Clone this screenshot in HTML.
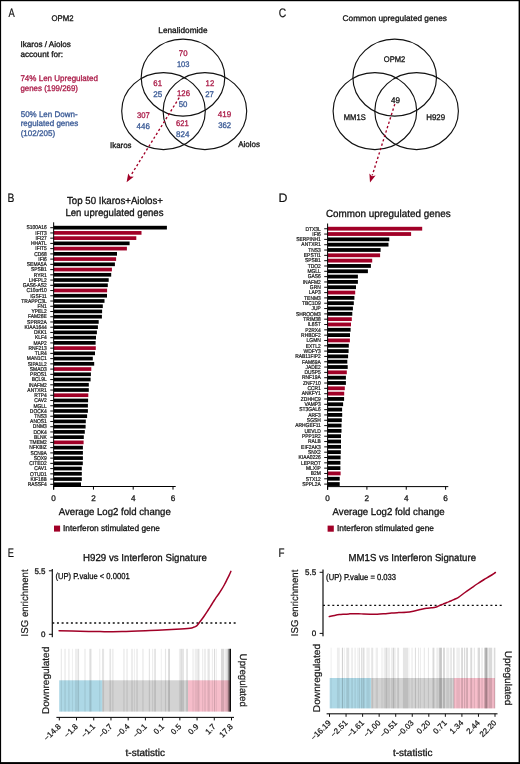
<!DOCTYPE html>
<html><head><meta charset="utf-8"><title>Figure</title>
<style>
html,body{margin:0;padding:0;background:#fff;}
body{width:520px;height:764px;overflow:hidden;}
svg{display:block;font-family:"Liberation Sans", sans-serif;will-change:transform;text-rendering:geometricPrecision;filter:blur(0.3px);}
</style></head><body>
<svg xmlns="http://www.w3.org/2000/svg" width="520" height="764" viewBox="0 0 520 764">
<rect width="520" height="764" fill="#fff"/>
<rect x="0" y="0" width="520" height="1.2" fill="#000"/>
<rect x="0" y="0" width="1.1" height="764" fill="#000"/>
<rect x="518.6" y="0" width="1.4" height="764" fill="#000"/>
<rect x="0" y="762.1" width="520" height="1.9" fill="#000"/>
<text transform="translate(8.38,16.60) scale(0.760,1)" font-size="12.3" fill="#111" stroke="#111" stroke-width="0.2">A</text>
<text transform="translate(7.55,202.10) scale(0.841,1)" font-size="12.3" fill="#111" stroke="#111" stroke-width="0.2">B</text>
<text transform="translate(278.68,16.50) scale(0.835,1)" font-size="12.3" fill="#111" stroke="#111" stroke-width="0.2">C</text>
<text transform="translate(278.49,202.10) scale(1.003,1)" font-size="12.3" fill="#111" stroke="#111" stroke-width="0.2">D</text>
<text transform="translate(7.64,556.80) scale(0.750,1)" font-size="12.3" fill="#111" stroke="#111" stroke-width="0.2">E</text>
<text transform="translate(278.40,556.70) scale(0.798,1)" font-size="12.3" fill="#111" stroke="#111" stroke-width="0.2">F</text>
<text x="51.50" y="20.90" font-size="8.2" textLength="22.00" lengthAdjust="spacingAndGlyphs" fill="#111" stroke="#111" stroke-width="0.3">OPM2</text>
<text x="20.40" y="46.90" font-size="8.2" textLength="50.40" lengthAdjust="spacingAndGlyphs" fill="#111" stroke="#111" stroke-width="0.3">Ikaros / Aiolos</text>
<text x="20.40" y="56.50" font-size="8.2" textLength="42.60" lengthAdjust="spacingAndGlyphs" fill="#111" stroke="#111" stroke-width="0.3">account for:</text>
<text x="20.40" y="81.00" font-size="8.2" textLength="77.60" lengthAdjust="spacingAndGlyphs" fill="#aa1a47" stroke="#aa1a47" stroke-width="0.3">74% Len Upregulated</text>
<text x="20.40" y="90.60" font-size="8.2" textLength="57.60" lengthAdjust="spacingAndGlyphs" fill="#aa1a47" stroke="#aa1a47" stroke-width="0.3">genes (199/269)</text>
<text x="20.70" y="116.60" font-size="8.2" textLength="56.90" lengthAdjust="spacingAndGlyphs" fill="#3a5a96" stroke="#3a5a96" stroke-width="0.3">50% Len Down-</text>
<text x="20.70" y="126.20" font-size="8.2" textLength="57.60" lengthAdjust="spacingAndGlyphs" fill="#3a5a96" stroke="#3a5a96" stroke-width="0.3">regulated genes</text>
<text x="20.70" y="136.20" font-size="8.2" textLength="34.40" lengthAdjust="spacingAndGlyphs" fill="#3a5a96" stroke="#3a5a96" stroke-width="0.3">(102/205)</text>
<ellipse cx="183.00" cy="77.55" rx="41.8" ry="38.5" fill="none" stroke="#111" stroke-width="1.15"/>
<ellipse cx="163.50" cy="111.05" rx="41.8" ry="38.5" fill="none" stroke="#111" stroke-width="1.15"/>
<ellipse cx="204.90" cy="111.05" rx="41.8" ry="38.5" fill="none" stroke="#111" stroke-width="1.15"/>
<text x="158.30" y="33.40" font-size="8.2" textLength="49.30" lengthAdjust="spacingAndGlyphs" fill="#111" stroke="#111" stroke-width="0.3">Lenalidomide</text>
<text x="110.00" y="147.50" font-size="8.2" textLength="21.50" lengthAdjust="spacingAndGlyphs" fill="#111" stroke="#111" stroke-width="0.3">Ikaros</text>
<text x="238.20" y="147.40" font-size="8.2" textLength="21.80" lengthAdjust="spacingAndGlyphs" fill="#111" stroke="#111" stroke-width="0.3">Aiolos</text>
<text x="178.80" y="55.90" font-size="8.2" textLength="8.70" lengthAdjust="spacingAndGlyphs" fill="#aa1a47" stroke="#aa1a47" stroke-width="0.3">70</text>
<text x="176.90" y="67.10" font-size="8.2" textLength="12.60" lengthAdjust="spacingAndGlyphs" fill="#3a5a96" stroke="#3a5a96" stroke-width="0.3">103</text>
<text x="153.30" y="86.40" font-size="8.2" textLength="8.70" lengthAdjust="spacingAndGlyphs" fill="#aa1a47" stroke="#aa1a47" stroke-width="0.3">61</text>
<text x="153.30" y="97.00" font-size="8.2" textLength="9.00" lengthAdjust="spacingAndGlyphs" fill="#3a5a96" stroke="#3a5a96" stroke-width="0.3">25</text>
<text x="205.60" y="86.40" font-size="8.2" textLength="8.60" lengthAdjust="spacingAndGlyphs" fill="#aa1a47" stroke="#aa1a47" stroke-width="0.3">12</text>
<text x="205.20" y="97.00" font-size="8.2" textLength="8.70" lengthAdjust="spacingAndGlyphs" fill="#3a5a96" stroke="#3a5a96" stroke-width="0.3">27</text>
<text x="177.00" y="96.10" font-size="8.2" textLength="13.00" lengthAdjust="spacingAndGlyphs" fill="#aa1a47" stroke="#aa1a47" stroke-width="0.3">126</text>
<text x="178.70" y="106.90" font-size="8.2" textLength="8.70" lengthAdjust="spacingAndGlyphs" fill="#3a5a96" stroke="#3a5a96" stroke-width="0.3">50</text>
<text x="136.90" y="118.00" font-size="8.2" textLength="12.80" lengthAdjust="spacingAndGlyphs" fill="#aa1a47" stroke="#aa1a47" stroke-width="0.3">307</text>
<text x="136.60" y="129.00" font-size="8.2" textLength="13.30" lengthAdjust="spacingAndGlyphs" fill="#3a5a96" stroke="#3a5a96" stroke-width="0.3">446</text>
<text x="176.10" y="126.00" font-size="8.2" textLength="12.70" lengthAdjust="spacingAndGlyphs" fill="#aa1a47" stroke="#aa1a47" stroke-width="0.3">621</text>
<text x="176.10" y="137.10" font-size="8.2" textLength="13.40" lengthAdjust="spacingAndGlyphs" fill="#3a5a96" stroke="#3a5a96" stroke-width="0.3">824</text>
<text x="217.80" y="117.00" font-size="8.2" textLength="13.40" lengthAdjust="spacingAndGlyphs" fill="#aa1a47" stroke="#aa1a47" stroke-width="0.3">419</text>
<text x="218.20" y="128.10" font-size="8.2" textLength="13.00" lengthAdjust="spacingAndGlyphs" fill="#3a5a96" stroke="#3a5a96" stroke-width="0.3">362</text>
<line x1="179.20" y1="97.70" x2="130.62" y2="175.75" stroke="#a10027" stroke-width="1.35" stroke-dasharray="2.3 2.3"/>
<polygon points="126.60,182.20 128.23,173.44 130.09,176.60 133.75,176.87" fill="#a10027"/>
<text x="342.60" y="21.20" font-size="8.2" textLength="104.30" lengthAdjust="spacingAndGlyphs" fill="#111" stroke="#111" stroke-width="0.3">Common upregulated genes</text>
<ellipse cx="394.70" cy="77.55" rx="41.8" ry="38.5" fill="none" stroke="#111" stroke-width="1.15"/>
<ellipse cx="374.90" cy="111.05" rx="41.8" ry="38.5" fill="none" stroke="#111" stroke-width="1.15"/>
<ellipse cx="416.60" cy="111.05" rx="41.8" ry="38.5" fill="none" stroke="#111" stroke-width="1.15"/>
<text x="383.80" y="62.30" font-size="8.2" textLength="21.50" lengthAdjust="spacingAndGlyphs" fill="#111" stroke="#111" stroke-width="0.3">OPM2</text>
<text x="391.10" y="102.90" font-size="8.2" textLength="9.00" lengthAdjust="spacingAndGlyphs" fill="#111" stroke="#111" stroke-width="0.3">49</text>
<text x="343.80" y="120.10" font-size="8.2" textLength="21.90" lengthAdjust="spacingAndGlyphs" fill="#111" stroke="#111" stroke-width="0.3">MM1S</text>
<text x="426.20" y="120.10" font-size="8.2" textLength="18.90" lengthAdjust="spacingAndGlyphs" fill="#111" stroke="#111" stroke-width="0.3">H929</text>
<line x1="394.80" y1="104.10" x2="372.29" y2="175.25" stroke="#a10027" stroke-width="1.35" stroke-dasharray="2.3 2.3"/>
<polygon points="370.00,182.50 369.40,173.61 371.99,176.21 375.60,175.57" fill="#a10027"/>
<rect x="53.65" y="225.80" width="113.25" height="3.7" fill="#000"/>
<rect x="50.25" y="227.20" width="3.4" height="1.0" fill="#111"/>
<text transform="translate(46.80,229.45) scale(0.88,1)" font-size="5.6" text-anchor="end" fill="#1a1a1a" stroke="#1a1a1a" stroke-width="0.22">S100A16</text>
<rect x="53.65" y="231.04" width="87.85" height="3.7" fill="#a10027"/>
<rect x="50.25" y="232.44" width="3.4" height="1.0" fill="#111"/>
<text transform="translate(46.80,234.69) scale(0.88,1)" font-size="5.6" text-anchor="end" fill="#1a1a1a" stroke="#1a1a1a" stroke-width="0.22">IFIT3</text>
<rect x="53.65" y="236.27" width="82.65" height="3.7" fill="#a10027"/>
<rect x="50.25" y="237.67" width="3.4" height="1.0" fill="#111"/>
<text transform="translate(46.80,239.92) scale(0.88,1)" font-size="5.6" text-anchor="end" fill="#1a1a1a" stroke="#1a1a1a" stroke-width="0.22">IFI27</text>
<rect x="53.65" y="241.51" width="75.95" height="3.7" fill="#000"/>
<rect x="50.25" y="242.91" width="3.4" height="1.0" fill="#111"/>
<text transform="translate(46.80,245.16) scale(0.88,1)" font-size="5.6" text-anchor="end" fill="#1a1a1a" stroke="#1a1a1a" stroke-width="0.22">HHATL</text>
<rect x="53.65" y="246.75" width="73.25" height="3.7" fill="#a10027"/>
<rect x="50.25" y="248.15" width="3.4" height="1.0" fill="#111"/>
<text transform="translate(46.80,250.40) scale(0.88,1)" font-size="5.6" text-anchor="end" fill="#1a1a1a" stroke="#1a1a1a" stroke-width="0.22">IFIT5</text>
<rect x="53.65" y="251.99" width="63.35" height="3.7" fill="#000"/>
<rect x="50.25" y="253.39" width="3.4" height="1.0" fill="#111"/>
<text transform="translate(46.80,255.64) scale(0.88,1)" font-size="5.6" text-anchor="end" fill="#1a1a1a" stroke="#1a1a1a" stroke-width="0.22">CD68</text>
<rect x="53.65" y="257.22" width="62.45" height="3.7" fill="#a10027"/>
<rect x="50.25" y="258.62" width="3.4" height="1.0" fill="#111"/>
<text transform="translate(46.80,260.87) scale(0.88,1)" font-size="5.6" text-anchor="end" fill="#1a1a1a" stroke="#1a1a1a" stroke-width="0.22">IFI6</text>
<rect x="53.65" y="262.46" width="61.25" height="3.7" fill="#000"/>
<rect x="50.25" y="263.86" width="3.4" height="1.0" fill="#111"/>
<text transform="translate(46.80,266.11) scale(0.88,1)" font-size="5.6" text-anchor="end" fill="#1a1a1a" stroke="#1a1a1a" stroke-width="0.22">SEMA5A</text>
<rect x="53.65" y="267.70" width="58.25" height="3.7" fill="#a10027"/>
<rect x="50.25" y="269.10" width="3.4" height="1.0" fill="#111"/>
<text transform="translate(46.80,271.35) scale(0.88,1)" font-size="5.6" text-anchor="end" fill="#1a1a1a" stroke="#1a1a1a" stroke-width="0.22">SPSB1</text>
<rect x="53.65" y="272.93" width="57.55" height="3.7" fill="#000"/>
<rect x="50.25" y="274.33" width="3.4" height="1.0" fill="#111"/>
<text transform="translate(46.80,276.58) scale(0.88,1)" font-size="5.6" text-anchor="end" fill="#1a1a1a" stroke="#1a1a1a" stroke-width="0.22">RYR1</text>
<rect x="53.65" y="278.17" width="55.05" height="3.7" fill="#000"/>
<rect x="50.25" y="279.57" width="3.4" height="1.0" fill="#111"/>
<text transform="translate(46.80,281.82) scale(0.88,1)" font-size="5.6" text-anchor="end" fill="#1a1a1a" stroke="#1a1a1a" stroke-width="0.22">LHFPL2</text>
<rect x="53.65" y="283.41" width="54.15" height="3.7" fill="#000"/>
<rect x="50.25" y="284.81" width="3.4" height="1.0" fill="#111"/>
<text transform="translate(46.80,287.06) scale(0.88,1)" font-size="5.6" text-anchor="end" fill="#1a1a1a" stroke="#1a1a1a" stroke-width="0.22">GAS6-AS2</text>
<rect x="53.65" y="288.64" width="53.45" height="3.7" fill="#a10027"/>
<rect x="50.25" y="290.04" width="3.4" height="1.0" fill="#111"/>
<text transform="translate(46.80,292.29) scale(0.88,1)" font-size="5.6" text-anchor="end" fill="#1a1a1a" stroke="#1a1a1a" stroke-width="0.22">C10orf10</text>
<rect x="53.65" y="293.88" width="53.35" height="3.7" fill="#000"/>
<rect x="50.25" y="295.28" width="3.4" height="1.0" fill="#111"/>
<text transform="translate(46.80,297.53) scale(0.88,1)" font-size="5.6" text-anchor="end" fill="#1a1a1a" stroke="#1a1a1a" stroke-width="0.22">IGSF11</text>
<rect x="53.65" y="299.12" width="50.85" height="3.7" fill="#000"/>
<rect x="50.25" y="300.52" width="3.4" height="1.0" fill="#111"/>
<text transform="translate(46.80,302.77) scale(0.88,1)" font-size="5.6" text-anchor="end" fill="#1a1a1a" stroke="#1a1a1a" stroke-width="0.22">TRAPPC3L</text>
<rect x="53.65" y="304.36" width="49.15" height="3.7" fill="#000"/>
<rect x="50.25" y="305.76" width="3.4" height="1.0" fill="#111"/>
<text transform="translate(46.80,308.01) scale(0.88,1)" font-size="5.6" text-anchor="end" fill="#1a1a1a" stroke="#1a1a1a" stroke-width="0.22">FN1</text>
<rect x="53.65" y="309.59" width="48.45" height="3.7" fill="#000"/>
<rect x="50.25" y="310.99" width="3.4" height="1.0" fill="#111"/>
<text transform="translate(46.80,313.24) scale(0.88,1)" font-size="5.6" text-anchor="end" fill="#1a1a1a" stroke="#1a1a1a" stroke-width="0.22">YPEL2</text>
<rect x="53.65" y="314.83" width="48.25" height="3.7" fill="#000"/>
<rect x="50.25" y="316.23" width="3.4" height="1.0" fill="#111"/>
<text transform="translate(46.80,318.48) scale(0.88,1)" font-size="5.6" text-anchor="end" fill="#1a1a1a" stroke="#1a1a1a" stroke-width="0.22">FAM26E</text>
<rect x="53.65" y="320.07" width="45.05" height="3.7" fill="#000"/>
<rect x="50.25" y="321.47" width="3.4" height="1.0" fill="#111"/>
<text transform="translate(46.80,323.72) scale(0.88,1)" font-size="5.6" text-anchor="end" fill="#1a1a1a" stroke="#1a1a1a" stroke-width="0.22">SPRR2A</text>
<rect x="53.65" y="325.30" width="44.25" height="3.7" fill="#000"/>
<rect x="50.25" y="326.70" width="3.4" height="1.0" fill="#111"/>
<text transform="translate(46.80,328.95) scale(0.88,1)" font-size="5.6" text-anchor="end" fill="#1a1a1a" stroke="#1a1a1a" stroke-width="0.22">KIAA1644</text>
<rect x="53.65" y="330.54" width="43.25" height="3.7" fill="#000"/>
<rect x="50.25" y="331.94" width="3.4" height="1.0" fill="#111"/>
<text transform="translate(46.80,334.19) scale(0.88,1)" font-size="5.6" text-anchor="end" fill="#1a1a1a" stroke="#1a1a1a" stroke-width="0.22">DKK1</text>
<rect x="53.65" y="335.78" width="42.35" height="3.7" fill="#000"/>
<rect x="50.25" y="337.18" width="3.4" height="1.0" fill="#111"/>
<text transform="translate(46.80,339.43) scale(0.88,1)" font-size="5.6" text-anchor="end" fill="#1a1a1a" stroke="#1a1a1a" stroke-width="0.22">KLF4</text>
<rect x="53.65" y="341.01" width="41.95" height="3.7" fill="#000"/>
<rect x="50.25" y="342.41" width="3.4" height="1.0" fill="#111"/>
<text transform="translate(46.80,344.66) scale(0.88,1)" font-size="5.6" text-anchor="end" fill="#1a1a1a" stroke="#1a1a1a" stroke-width="0.22">MAP2</text>
<rect x="53.65" y="346.25" width="42.15" height="3.7" fill="#a10027"/>
<rect x="50.25" y="347.65" width="3.4" height="1.0" fill="#111"/>
<text transform="translate(46.80,349.90) scale(0.88,1)" font-size="5.6" text-anchor="end" fill="#1a1a1a" stroke="#1a1a1a" stroke-width="0.22">RNF213</text>
<rect x="53.65" y="351.49" width="41.35" height="3.7" fill="#000"/>
<rect x="50.25" y="352.89" width="3.4" height="1.0" fill="#111"/>
<text transform="translate(46.80,355.14) scale(0.88,1)" font-size="5.6" text-anchor="end" fill="#1a1a1a" stroke="#1a1a1a" stroke-width="0.22">TLR4</text>
<rect x="53.65" y="356.73" width="39.15" height="3.7" fill="#000"/>
<rect x="50.25" y="358.13" width="3.4" height="1.0" fill="#111"/>
<text transform="translate(46.80,360.38) scale(0.88,1)" font-size="5.6" text-anchor="end" fill="#1a1a1a" stroke="#1a1a1a" stroke-width="0.22">MAN1C1</text>
<rect x="53.65" y="361.96" width="40.55" height="3.7" fill="#000"/>
<rect x="50.25" y="363.36" width="3.4" height="1.0" fill="#111"/>
<text transform="translate(46.80,365.61) scale(0.88,1)" font-size="5.6" text-anchor="end" fill="#1a1a1a" stroke="#1a1a1a" stroke-width="0.22">SIPA1L2</text>
<rect x="53.65" y="367.20" width="37.65" height="3.7" fill="#a10027"/>
<rect x="50.25" y="368.60" width="3.4" height="1.0" fill="#111"/>
<text transform="translate(46.80,370.85) scale(0.88,1)" font-size="5.6" text-anchor="end" fill="#1a1a1a" stroke="#1a1a1a" stroke-width="0.22">SMAD3</text>
<rect x="53.65" y="372.44" width="37.25" height="3.7" fill="#000"/>
<rect x="50.25" y="373.84" width="3.4" height="1.0" fill="#111"/>
<text transform="translate(46.80,376.09) scale(0.88,1)" font-size="5.6" text-anchor="end" fill="#1a1a1a" stroke="#1a1a1a" stroke-width="0.22">PROS1</text>
<rect x="53.65" y="377.67" width="36.95" height="3.7" fill="#000"/>
<rect x="50.25" y="379.07" width="3.4" height="1.0" fill="#111"/>
<text transform="translate(46.80,381.32) scale(0.88,1)" font-size="5.6" text-anchor="end" fill="#1a1a1a" stroke="#1a1a1a" stroke-width="0.22">BCL9L</text>
<rect x="53.65" y="382.91" width="35.15" height="3.7" fill="#000"/>
<rect x="50.25" y="384.31" width="3.4" height="1.0" fill="#111"/>
<text transform="translate(46.80,386.56) scale(0.88,1)" font-size="5.6" text-anchor="end" fill="#1a1a1a" stroke="#1a1a1a" stroke-width="0.22">INAFM2</text>
<rect x="53.65" y="388.15" width="35.15" height="3.7" fill="#000"/>
<rect x="50.25" y="389.55" width="3.4" height="1.0" fill="#111"/>
<text transform="translate(46.80,391.80) scale(0.88,1)" font-size="5.6" text-anchor="end" fill="#1a1a1a" stroke="#1a1a1a" stroke-width="0.22">ANTXR1</text>
<rect x="53.65" y="393.38" width="34.65" height="3.7" fill="#a10027"/>
<rect x="50.25" y="394.78" width="3.4" height="1.0" fill="#111"/>
<text transform="translate(46.80,397.03) scale(0.88,1)" font-size="5.6" text-anchor="end" fill="#1a1a1a" stroke="#1a1a1a" stroke-width="0.22">RTP4</text>
<rect x="53.65" y="398.62" width="34.45" height="3.7" fill="#000"/>
<rect x="50.25" y="400.02" width="3.4" height="1.0" fill="#111"/>
<text transform="translate(46.80,402.27) scale(0.88,1)" font-size="5.6" text-anchor="end" fill="#1a1a1a" stroke="#1a1a1a" stroke-width="0.22">CAV2</text>
<rect x="53.65" y="403.86" width="34.25" height="3.7" fill="#000"/>
<rect x="50.25" y="405.26" width="3.4" height="1.0" fill="#111"/>
<text transform="translate(46.80,407.51) scale(0.88,1)" font-size="5.6" text-anchor="end" fill="#1a1a1a" stroke="#1a1a1a" stroke-width="0.22">MGLL</text>
<rect x="53.65" y="409.10" width="34.25" height="3.7" fill="#000"/>
<rect x="50.25" y="410.50" width="3.4" height="1.0" fill="#111"/>
<text transform="translate(46.80,412.75) scale(0.88,1)" font-size="5.6" text-anchor="end" fill="#1a1a1a" stroke="#1a1a1a" stroke-width="0.22">DOCK4</text>
<rect x="53.65" y="414.33" width="33.45" height="3.7" fill="#000"/>
<rect x="50.25" y="415.73" width="3.4" height="1.0" fill="#111"/>
<text transform="translate(46.80,417.98) scale(0.88,1)" font-size="5.6" text-anchor="end" fill="#1a1a1a" stroke="#1a1a1a" stroke-width="0.22">TNS3</text>
<rect x="53.65" y="419.57" width="32.15" height="3.7" fill="#000"/>
<rect x="50.25" y="420.97" width="3.4" height="1.0" fill="#111"/>
<text transform="translate(46.80,423.22) scale(0.88,1)" font-size="5.6" text-anchor="end" fill="#1a1a1a" stroke="#1a1a1a" stroke-width="0.22">ANOS1</text>
<rect x="53.65" y="424.81" width="31.95" height="3.7" fill="#000"/>
<rect x="50.25" y="426.21" width="3.4" height="1.0" fill="#111"/>
<text transform="translate(46.80,428.46) scale(0.88,1)" font-size="5.6" text-anchor="end" fill="#1a1a1a" stroke="#1a1a1a" stroke-width="0.22">DNM3</text>
<rect x="53.65" y="430.04" width="31.15" height="3.7" fill="#000"/>
<rect x="50.25" y="431.44" width="3.4" height="1.0" fill="#111"/>
<text transform="translate(46.80,433.69) scale(0.88,1)" font-size="5.6" text-anchor="end" fill="#1a1a1a" stroke="#1a1a1a" stroke-width="0.22">DOK4</text>
<rect x="53.65" y="435.28" width="30.15" height="3.7" fill="#000"/>
<rect x="50.25" y="436.68" width="3.4" height="1.0" fill="#111"/>
<text transform="translate(46.80,438.93) scale(0.88,1)" font-size="5.6" text-anchor="end" fill="#1a1a1a" stroke="#1a1a1a" stroke-width="0.22">BLNK</text>
<rect x="53.65" y="440.52" width="29.95" height="3.7" fill="#a10027"/>
<rect x="50.25" y="441.92" width="3.4" height="1.0" fill="#111"/>
<text transform="translate(46.80,444.17) scale(0.88,1)" font-size="5.6" text-anchor="end" fill="#1a1a1a" stroke="#1a1a1a" stroke-width="0.22">TMEM2</text>
<rect x="53.65" y="445.75" width="29.25" height="3.7" fill="#000"/>
<rect x="50.25" y="447.15" width="3.4" height="1.0" fill="#111"/>
<text transform="translate(46.80,449.40) scale(0.88,1)" font-size="5.6" text-anchor="end" fill="#1a1a1a" stroke="#1a1a1a" stroke-width="0.22">NFKBIZ</text>
<rect x="53.65" y="450.99" width="29.25" height="3.7" fill="#000"/>
<rect x="50.25" y="452.39" width="3.4" height="1.0" fill="#111"/>
<text transform="translate(46.80,454.64) scale(0.88,1)" font-size="5.6" text-anchor="end" fill="#1a1a1a" stroke="#1a1a1a" stroke-width="0.22">SCN9A</text>
<rect x="53.65" y="456.23" width="29.25" height="3.7" fill="#000"/>
<rect x="50.25" y="457.63" width="3.4" height="1.0" fill="#111"/>
<text transform="translate(46.80,459.88) scale(0.88,1)" font-size="5.6" text-anchor="end" fill="#1a1a1a" stroke="#1a1a1a" stroke-width="0.22">SOX9</text>
<rect x="53.65" y="461.47" width="29.15" height="3.7" fill="#000"/>
<rect x="50.25" y="462.87" width="3.4" height="1.0" fill="#111"/>
<text transform="translate(46.80,465.12) scale(0.88,1)" font-size="5.6" text-anchor="end" fill="#1a1a1a" stroke="#1a1a1a" stroke-width="0.22">CITED2</text>
<rect x="53.65" y="466.70" width="28.15" height="3.7" fill="#000"/>
<rect x="50.25" y="468.10" width="3.4" height="1.0" fill="#111"/>
<text transform="translate(46.80,470.35) scale(0.88,1)" font-size="5.6" text-anchor="end" fill="#1a1a1a" stroke="#1a1a1a" stroke-width="0.22">CAV1</text>
<rect x="53.65" y="471.94" width="28.15" height="3.7" fill="#000"/>
<rect x="50.25" y="473.34" width="3.4" height="1.0" fill="#111"/>
<text transform="translate(46.80,475.59) scale(0.88,1)" font-size="5.6" text-anchor="end" fill="#1a1a1a" stroke="#1a1a1a" stroke-width="0.22">OTUD1</text>
<rect x="53.65" y="477.18" width="28.15" height="3.7" fill="#000"/>
<rect x="50.25" y="478.58" width="3.4" height="1.0" fill="#111"/>
<text transform="translate(46.80,480.83) scale(0.88,1)" font-size="5.6" text-anchor="end" fill="#1a1a1a" stroke="#1a1a1a" stroke-width="0.22">KIF16B</text>
<rect x="53.65" y="482.41" width="27.35" height="3.7" fill="#000"/>
<rect x="50.25" y="483.81" width="3.4" height="1.0" fill="#111"/>
<text transform="translate(46.80,486.06) scale(0.88,1)" font-size="5.6" text-anchor="end" fill="#1a1a1a" stroke="#1a1a1a" stroke-width="0.22">RASSF4</text>
<rect x="53.15" y="222.30" width="1" height="267.30" fill="#000"/>
<rect x="53.15" y="486.00" width="122.55" height="1" fill="#000"/>
<rect x="53.15" y="486.50" width="1" height="3.1" fill="#000"/>
<text x="53.65" y="500.80" font-size="8.2" text-anchor="middle" fill="#1a1a1a" stroke="#1a1a1a" stroke-width="0.3">0</text>
<rect x="92.95" y="486.50" width="1" height="3.1" fill="#000"/>
<text x="93.45" y="500.80" font-size="8.2" text-anchor="middle" fill="#1a1a1a" stroke="#1a1a1a" stroke-width="0.3">2</text>
<rect x="132.70" y="486.50" width="1" height="3.1" fill="#000"/>
<text x="133.20" y="500.80" font-size="8.2" text-anchor="middle" fill="#1a1a1a" stroke="#1a1a1a" stroke-width="0.3">4</text>
<rect x="172.50" y="486.50" width="1" height="3.1" fill="#000"/>
<text x="173.00" y="500.80" font-size="8.2" text-anchor="middle" fill="#1a1a1a" stroke="#1a1a1a" stroke-width="0.3">6</text>
<rect x="327.60" y="226.80" width="94.60" height="3.8" fill="#a10027"/>
<rect x="324.20" y="228.25" width="3.4" height="1.0" fill="#111"/>
<text transform="translate(320.80,230.50) scale(0.88,1)" font-size="5.6" text-anchor="end" fill="#1a1a1a" stroke="#1a1a1a" stroke-width="0.22">DTX3L</text>
<rect x="327.60" y="232.12" width="83.50" height="3.8" fill="#a10027"/>
<rect x="324.20" y="233.57" width="3.4" height="1.0" fill="#111"/>
<text transform="translate(320.80,235.82) scale(0.88,1)" font-size="5.6" text-anchor="end" fill="#1a1a1a" stroke="#1a1a1a" stroke-width="0.22">IFI6</text>
<rect x="327.60" y="237.44" width="61.70" height="3.8" fill="#000"/>
<rect x="324.20" y="238.89" width="3.4" height="1.0" fill="#111"/>
<text transform="translate(320.80,241.14) scale(0.88,1)" font-size="5.6" text-anchor="end" fill="#1a1a1a" stroke="#1a1a1a" stroke-width="0.22">SERPINH1</text>
<rect x="327.60" y="242.76" width="60.90" height="3.8" fill="#000"/>
<rect x="324.20" y="244.21" width="3.4" height="1.0" fill="#111"/>
<text transform="translate(320.80,246.46) scale(0.88,1)" font-size="5.6" text-anchor="end" fill="#1a1a1a" stroke="#1a1a1a" stroke-width="0.22">ANTXR1</text>
<rect x="327.60" y="248.08" width="53.00" height="3.8" fill="#000"/>
<rect x="324.20" y="249.53" width="3.4" height="1.0" fill="#111"/>
<text transform="translate(320.80,251.78) scale(0.88,1)" font-size="5.6" text-anchor="end" fill="#1a1a1a" stroke="#1a1a1a" stroke-width="0.22">TNS3</text>
<rect x="327.60" y="253.40" width="52.50" height="3.8" fill="#a10027"/>
<rect x="324.20" y="254.85" width="3.4" height="1.0" fill="#111"/>
<text transform="translate(320.80,257.10) scale(0.88,1)" font-size="5.6" text-anchor="end" fill="#1a1a1a" stroke="#1a1a1a" stroke-width="0.22">EPSTI1</text>
<rect x="327.60" y="258.72" width="44.60" height="3.8" fill="#a10027"/>
<rect x="324.20" y="260.17" width="3.4" height="1.0" fill="#111"/>
<text transform="translate(320.80,262.42) scale(0.88,1)" font-size="5.6" text-anchor="end" fill="#1a1a1a" stroke="#1a1a1a" stroke-width="0.22">SPSB1</text>
<rect x="327.60" y="264.04" width="43.30" height="3.8" fill="#000"/>
<rect x="324.20" y="265.49" width="3.4" height="1.0" fill="#111"/>
<text transform="translate(320.80,267.74) scale(0.88,1)" font-size="5.6" text-anchor="end" fill="#1a1a1a" stroke="#1a1a1a" stroke-width="0.22">TDO2</text>
<rect x="327.60" y="269.36" width="40.30" height="3.8" fill="#000"/>
<rect x="324.20" y="270.81" width="3.4" height="1.0" fill="#111"/>
<text transform="translate(320.80,273.06) scale(0.88,1)" font-size="5.6" text-anchor="end" fill="#1a1a1a" stroke="#1a1a1a" stroke-width="0.22">MGLL</text>
<rect x="327.60" y="274.68" width="30.30" height="3.8" fill="#000"/>
<rect x="324.20" y="276.13" width="3.4" height="1.0" fill="#111"/>
<text transform="translate(320.80,278.38) scale(0.88,1)" font-size="5.6" text-anchor="end" fill="#1a1a1a" stroke="#1a1a1a" stroke-width="0.22">GAS6</text>
<rect x="327.60" y="280.00" width="30.30" height="3.8" fill="#000"/>
<rect x="324.20" y="281.45" width="3.4" height="1.0" fill="#111"/>
<text transform="translate(320.80,283.70) scale(0.88,1)" font-size="5.6" text-anchor="end" fill="#1a1a1a" stroke="#1a1a1a" stroke-width="0.22">INAFM2</text>
<rect x="327.60" y="285.32" width="28.40" height="3.8" fill="#000"/>
<rect x="324.20" y="286.77" width="3.4" height="1.0" fill="#111"/>
<text transform="translate(320.80,289.02) scale(0.88,1)" font-size="5.6" text-anchor="end" fill="#1a1a1a" stroke="#1a1a1a" stroke-width="0.22">GRN</text>
<rect x="327.60" y="290.64" width="27.60" height="3.8" fill="#a10027"/>
<rect x="324.20" y="292.09" width="3.4" height="1.0" fill="#111"/>
<text transform="translate(320.80,294.34) scale(0.88,1)" font-size="5.6" text-anchor="end" fill="#1a1a1a" stroke="#1a1a1a" stroke-width="0.22">LAP3</text>
<rect x="327.60" y="295.96" width="26.80" height="3.8" fill="#000"/>
<rect x="324.20" y="297.41" width="3.4" height="1.0" fill="#111"/>
<text transform="translate(320.80,299.66) scale(0.88,1)" font-size="5.6" text-anchor="end" fill="#1a1a1a" stroke="#1a1a1a" stroke-width="0.22">TENM3</text>
<rect x="327.60" y="301.28" width="26.20" height="3.8" fill="#000"/>
<rect x="324.20" y="302.73" width="3.4" height="1.0" fill="#111"/>
<text transform="translate(320.80,304.98) scale(0.88,1)" font-size="5.6" text-anchor="end" fill="#1a1a1a" stroke="#1a1a1a" stroke-width="0.22">TBC1D9</text>
<rect x="327.60" y="306.60" width="25.30" height="3.8" fill="#000"/>
<rect x="324.20" y="308.05" width="3.4" height="1.0" fill="#111"/>
<text transform="translate(320.80,310.30) scale(0.88,1)" font-size="5.6" text-anchor="end" fill="#1a1a1a" stroke="#1a1a1a" stroke-width="0.22">JUP</text>
<rect x="327.60" y="311.92" width="24.70" height="3.8" fill="#000"/>
<rect x="324.20" y="313.37" width="3.4" height="1.0" fill="#111"/>
<text transform="translate(320.80,315.62) scale(0.88,1)" font-size="5.6" text-anchor="end" fill="#1a1a1a" stroke="#1a1a1a" stroke-width="0.22">SHROOM3</text>
<rect x="327.60" y="317.24" width="24.20" height="3.8" fill="#a10027"/>
<rect x="324.20" y="318.69" width="3.4" height="1.0" fill="#111"/>
<text transform="translate(320.80,320.94) scale(0.88,1)" font-size="5.6" text-anchor="end" fill="#1a1a1a" stroke="#1a1a1a" stroke-width="0.22">TRIM38</text>
<rect x="327.60" y="322.56" width="23.40" height="3.8" fill="#a10027"/>
<rect x="324.20" y="324.01" width="3.4" height="1.0" fill="#111"/>
<text transform="translate(320.80,326.26) scale(0.88,1)" font-size="5.6" text-anchor="end" fill="#1a1a1a" stroke="#1a1a1a" stroke-width="0.22">IL6ST</text>
<rect x="327.60" y="327.88" width="23.00" height="3.8" fill="#000"/>
<rect x="324.20" y="329.33" width="3.4" height="1.0" fill="#111"/>
<text transform="translate(320.80,331.58) scale(0.88,1)" font-size="5.6" text-anchor="end" fill="#1a1a1a" stroke="#1a1a1a" stroke-width="0.22">P2RX4</text>
<rect x="327.60" y="333.20" width="22.40" height="3.8" fill="#000"/>
<rect x="324.20" y="334.65" width="3.4" height="1.0" fill="#111"/>
<text transform="translate(320.80,336.90) scale(0.88,1)" font-size="5.6" text-anchor="end" fill="#1a1a1a" stroke="#1a1a1a" stroke-width="0.22">RHBDF2</text>
<rect x="327.60" y="338.52" width="22.30" height="3.8" fill="#a10027"/>
<rect x="324.20" y="339.97" width="3.4" height="1.0" fill="#111"/>
<text transform="translate(320.80,342.22) scale(0.88,1)" font-size="5.6" text-anchor="end" fill="#1a1a1a" stroke="#1a1a1a" stroke-width="0.22">LGMN</text>
<rect x="327.60" y="343.84" width="21.20" height="3.8" fill="#000"/>
<rect x="324.20" y="345.29" width="3.4" height="1.0" fill="#111"/>
<text transform="translate(320.80,347.54) scale(0.88,1)" font-size="5.6" text-anchor="end" fill="#1a1a1a" stroke="#1a1a1a" stroke-width="0.22">EXTL2</text>
<rect x="327.60" y="349.16" width="21.00" height="3.8" fill="#000"/>
<rect x="324.20" y="350.61" width="3.4" height="1.0" fill="#111"/>
<text transform="translate(320.80,352.86) scale(0.88,1)" font-size="5.6" text-anchor="end" fill="#1a1a1a" stroke="#1a1a1a" stroke-width="0.22">WDFY3</text>
<rect x="327.60" y="354.48" width="20.50" height="3.8" fill="#000"/>
<rect x="324.20" y="355.93" width="3.4" height="1.0" fill="#111"/>
<text transform="translate(320.80,358.18) scale(0.88,1)" font-size="5.6" text-anchor="end" fill="#1a1a1a" stroke="#1a1a1a" stroke-width="0.22">RAB11FIP2</text>
<rect x="327.60" y="359.80" width="19.70" height="3.8" fill="#000"/>
<rect x="324.20" y="361.25" width="3.4" height="1.0" fill="#111"/>
<text transform="translate(320.80,363.50) scale(0.88,1)" font-size="5.6" text-anchor="end" fill="#1a1a1a" stroke="#1a1a1a" stroke-width="0.22">FAM69A</text>
<rect x="327.60" y="365.12" width="20.10" height="3.8" fill="#000"/>
<rect x="324.20" y="366.57" width="3.4" height="1.0" fill="#111"/>
<text transform="translate(320.80,368.82) scale(0.88,1)" font-size="5.6" text-anchor="end" fill="#1a1a1a" stroke="#1a1a1a" stroke-width="0.22">JADE2</text>
<rect x="327.60" y="370.44" width="19.20" height="3.8" fill="#a10027"/>
<rect x="324.20" y="371.89" width="3.4" height="1.0" fill="#111"/>
<text transform="translate(320.80,374.14) scale(0.88,1)" font-size="5.6" text-anchor="end" fill="#1a1a1a" stroke="#1a1a1a" stroke-width="0.22">DUSP5</text>
<rect x="327.60" y="375.76" width="18.30" height="3.8" fill="#000"/>
<rect x="324.20" y="377.21" width="3.4" height="1.0" fill="#111"/>
<text transform="translate(320.80,379.46) scale(0.88,1)" font-size="5.6" text-anchor="end" fill="#1a1a1a" stroke="#1a1a1a" stroke-width="0.22">RNF19A</text>
<rect x="327.60" y="381.08" width="18.30" height="3.8" fill="#000"/>
<rect x="324.20" y="382.53" width="3.4" height="1.0" fill="#111"/>
<text transform="translate(320.80,384.78) scale(0.88,1)" font-size="5.6" text-anchor="end" fill="#1a1a1a" stroke="#1a1a1a" stroke-width="0.22">ZNF710</text>
<rect x="327.60" y="386.40" width="17.20" height="3.8" fill="#a10027"/>
<rect x="324.20" y="387.85" width="3.4" height="1.0" fill="#111"/>
<text transform="translate(320.80,390.10) scale(0.88,1)" font-size="5.6" text-anchor="end" fill="#1a1a1a" stroke="#1a1a1a" stroke-width="0.22">CCR1</text>
<rect x="327.60" y="391.72" width="16.60" height="3.8" fill="#a10027"/>
<rect x="324.20" y="393.17" width="3.4" height="1.0" fill="#111"/>
<text transform="translate(320.80,395.42) scale(0.88,1)" font-size="5.6" text-anchor="end" fill="#1a1a1a" stroke="#1a1a1a" stroke-width="0.22">ANKFY1</text>
<rect x="327.60" y="397.04" width="16.50" height="3.8" fill="#000"/>
<rect x="324.20" y="398.49" width="3.4" height="1.0" fill="#111"/>
<text transform="translate(320.80,400.74) scale(0.88,1)" font-size="5.6" text-anchor="end" fill="#1a1a1a" stroke="#1a1a1a" stroke-width="0.22">ZDHHC9</text>
<rect x="327.60" y="402.36" width="15.50" height="3.8" fill="#000"/>
<rect x="324.20" y="403.81" width="3.4" height="1.0" fill="#111"/>
<text transform="translate(320.80,406.06) scale(0.88,1)" font-size="5.6" text-anchor="end" fill="#1a1a1a" stroke="#1a1a1a" stroke-width="0.22">VAMP3</text>
<rect x="327.60" y="407.68" width="14.50" height="3.8" fill="#000"/>
<rect x="324.20" y="409.13" width="3.4" height="1.0" fill="#111"/>
<text transform="translate(320.80,411.38) scale(0.88,1)" font-size="5.6" text-anchor="end" fill="#1a1a1a" stroke="#1a1a1a" stroke-width="0.22">ST3GAL6</text>
<rect x="327.60" y="413.00" width="14.60" height="3.8" fill="#000"/>
<rect x="324.20" y="414.45" width="3.4" height="1.0" fill="#111"/>
<text transform="translate(320.80,416.70) scale(0.88,1)" font-size="5.6" text-anchor="end" fill="#1a1a1a" stroke="#1a1a1a" stroke-width="0.22">ARF3</text>
<rect x="327.60" y="418.32" width="14.20" height="3.8" fill="#000"/>
<rect x="324.20" y="419.77" width="3.4" height="1.0" fill="#111"/>
<text transform="translate(320.80,422.02) scale(0.88,1)" font-size="5.6" text-anchor="end" fill="#1a1a1a" stroke="#1a1a1a" stroke-width="0.22">SGSH</text>
<rect x="327.60" y="423.64" width="13.90" height="3.8" fill="#000"/>
<rect x="324.20" y="425.09" width="3.4" height="1.0" fill="#111"/>
<text transform="translate(320.80,427.34) scale(0.88,1)" font-size="5.6" text-anchor="end" fill="#1a1a1a" stroke="#1a1a1a" stroke-width="0.22">ARHGEF11</text>
<rect x="327.60" y="428.96" width="13.90" height="3.8" fill="#000"/>
<rect x="324.20" y="430.41" width="3.4" height="1.0" fill="#111"/>
<text transform="translate(320.80,432.66) scale(0.88,1)" font-size="5.6" text-anchor="end" fill="#1a1a1a" stroke="#1a1a1a" stroke-width="0.22">UEVLD</text>
<rect x="327.60" y="434.28" width="13.40" height="3.8" fill="#000"/>
<rect x="324.20" y="435.73" width="3.4" height="1.0" fill="#111"/>
<text transform="translate(320.80,437.98) scale(0.88,1)" font-size="5.6" text-anchor="end" fill="#1a1a1a" stroke="#1a1a1a" stroke-width="0.22">PPP1R2</text>
<rect x="327.60" y="439.60" width="13.40" height="3.8" fill="#000"/>
<rect x="324.20" y="441.05" width="3.4" height="1.0" fill="#111"/>
<text transform="translate(320.80,443.30) scale(0.88,1)" font-size="5.6" text-anchor="end" fill="#1a1a1a" stroke="#1a1a1a" stroke-width="0.22">RALB</text>
<rect x="327.60" y="444.92" width="13.40" height="3.8" fill="#000"/>
<rect x="324.20" y="446.37" width="3.4" height="1.0" fill="#111"/>
<text transform="translate(320.80,448.62) scale(0.88,1)" font-size="5.6" text-anchor="end" fill="#1a1a1a" stroke="#1a1a1a" stroke-width="0.22">EIF2AK3</text>
<rect x="327.60" y="450.24" width="13.20" height="3.8" fill="#000"/>
<rect x="324.20" y="451.69" width="3.4" height="1.0" fill="#111"/>
<text transform="translate(320.80,453.94) scale(0.88,1)" font-size="5.6" text-anchor="end" fill="#1a1a1a" stroke="#1a1a1a" stroke-width="0.22">SNX2</text>
<rect x="327.60" y="455.56" width="13.00" height="3.8" fill="#000"/>
<rect x="324.20" y="457.01" width="3.4" height="1.0" fill="#111"/>
<text transform="translate(320.80,459.26) scale(0.88,1)" font-size="5.6" text-anchor="end" fill="#1a1a1a" stroke="#1a1a1a" stroke-width="0.22">KIAA0226</text>
<rect x="327.60" y="460.88" width="12.80" height="3.8" fill="#000"/>
<rect x="324.20" y="462.33" width="3.4" height="1.0" fill="#111"/>
<text transform="translate(320.80,464.58) scale(0.88,1)" font-size="5.6" text-anchor="end" fill="#1a1a1a" stroke="#1a1a1a" stroke-width="0.22">LEPROT</text>
<rect x="327.60" y="466.20" width="12.80" height="3.8" fill="#000"/>
<rect x="324.20" y="467.65" width="3.4" height="1.0" fill="#111"/>
<text transform="translate(320.80,469.90) scale(0.88,1)" font-size="5.6" text-anchor="end" fill="#1a1a1a" stroke="#1a1a1a" stroke-width="0.22">MLXIP</text>
<rect x="327.60" y="471.52" width="13.00" height="3.8" fill="#a10027"/>
<rect x="324.20" y="472.97" width="3.4" height="1.0" fill="#111"/>
<text transform="translate(320.80,475.22) scale(0.88,1)" font-size="5.6" text-anchor="end" fill="#1a1a1a" stroke="#1a1a1a" stroke-width="0.22">B2M</text>
<rect x="327.60" y="476.84" width="12.10" height="3.8" fill="#000"/>
<rect x="324.20" y="478.29" width="3.4" height="1.0" fill="#111"/>
<text transform="translate(320.80,480.54) scale(0.88,1)" font-size="5.6" text-anchor="end" fill="#1a1a1a" stroke="#1a1a1a" stroke-width="0.22">STX12</text>
<rect x="327.60" y="482.16" width="12.10" height="3.8" fill="#000"/>
<rect x="324.20" y="483.61" width="3.4" height="1.0" fill="#111"/>
<text transform="translate(320.80,485.86) scale(0.88,1)" font-size="5.6" text-anchor="end" fill="#1a1a1a" stroke="#1a1a1a" stroke-width="0.22">SPPL2A</text>
<rect x="327.10" y="223.50" width="1" height="266.20" fill="#000"/>
<rect x="327.10" y="486.10" width="121.20" height="1" fill="#000"/>
<rect x="327.10" y="486.60" width="1" height="3.1" fill="#000"/>
<text x="327.60" y="500.80" font-size="8.2" text-anchor="middle" fill="#1a1a1a" stroke="#1a1a1a" stroke-width="0.3">0</text>
<rect x="366.40" y="486.60" width="1" height="3.1" fill="#000"/>
<text x="366.90" y="500.80" font-size="8.2" text-anchor="middle" fill="#1a1a1a" stroke="#1a1a1a" stroke-width="0.3">2</text>
<rect x="405.75" y="486.60" width="1" height="3.1" fill="#000"/>
<text x="406.25" y="500.80" font-size="8.2" text-anchor="middle" fill="#1a1a1a" stroke="#1a1a1a" stroke-width="0.3">4</text>
<rect x="445.10" y="486.60" width="1" height="3.1" fill="#000"/>
<text x="445.60" y="500.80" font-size="8.2" text-anchor="middle" fill="#1a1a1a" stroke="#1a1a1a" stroke-width="0.3">6</text>
<text x="67.00" y="203.70" font-size="10.2" textLength="96.00" lengthAdjust="spacingAndGlyphs" fill="#111" stroke="#111" stroke-width="0.3">Top 50 Ikaros+Aiolos+</text>
<text x="65.40" y="216.00" font-size="10.2" textLength="98.10" lengthAdjust="spacingAndGlyphs" fill="#111" stroke="#111" stroke-width="0.3">Len upregulated genes</text>
<text x="58.75" y="514.50" font-size="10" textLength="112.00" lengthAdjust="spacingAndGlyphs" fill="#111" stroke="#111" stroke-width="0.3">Average Log2 fold change</text>
<rect x="54.0" y="525.6" width="6.1" height="6.0" fill="#a10027"/>
<text x="63.00" y="531.10" font-size="8.6" textLength="97.00" lengthAdjust="spacingAndGlyphs" fill="#111" stroke="#111" stroke-width="0.3">Interferon stimulated gene</text>
<text x="325.90" y="217.00" font-size="10.3" textLength="124.70" lengthAdjust="spacingAndGlyphs" fill="#111" stroke="#111" stroke-width="0.3">Common upregulated genes</text>
<text x="332.60" y="514.50" font-size="10" textLength="112.00" lengthAdjust="spacingAndGlyphs" fill="#111" stroke="#111" stroke-width="0.3">Average Log2 fold change</text>
<rect x="327.6" y="525.6" width="6.2" height="6.1" fill="#a10027"/>
<text x="337.00" y="531.10" font-size="8.6" textLength="97.00" lengthAdjust="spacingAndGlyphs" fill="#111" stroke="#111" stroke-width="0.3">Interferon stimulated gene</text>
<text x="83.10" y="560.60" font-size="10.1" textLength="123.80" lengthAdjust="spacingAndGlyphs" fill="#111" stroke="#111" stroke-width="0.3">H929 vs Interferon Signature</text>
<rect x="51.70" y="569.00" width="1.2" height="68.20" fill="#111"/>
<rect x="48.90" y="570.30" width="3.4" height="1" fill="#111"/>
<text x="45.50" y="573.70" font-size="8.0" text-anchor="end" fill="#111" stroke="#111" stroke-width="0.3">5.5</text>
<rect x="48.90" y="633.80" width="3.4" height="1" fill="#111"/>
<text x="45.50" y="637.20" font-size="8.0" text-anchor="end" fill="#111" stroke="#111" stroke-width="0.3">0</text>
<text x="27.70" y="602.90" font-size="9.9" text-anchor="middle" fill="#111" stroke="#111" stroke-width="0.18" transform="rotate(-90 27.70 602.90)" textLength="67.00" lengthAdjust="spacingAndGlyphs">ISG enrichment</text>
<text x="55.40" y="579.00" font-size="8.6" textLength="74.30" lengthAdjust="spacingAndGlyphs" fill="#111" stroke="#111" stroke-width="0.3">(UP) P.value &lt; 0.0001</text>
<line x1="52.30" y1="622.95" x2="236.30" y2="622.95" stroke="#111" stroke-width="1.6" stroke-dasharray="2.0 2.65"/>
<path d="M59.10,630.70 C62.58,630.80 73.18,631.15 80.00,631.30 C86.82,631.45 93.00,631.55 100.00,631.60 C107.00,631.65 113.67,631.78 122.00,631.60 C130.33,631.42 141.00,630.90 150.00,630.50 C159.00,630.10 169.33,629.58 176.00,629.20 C182.67,628.82 187.08,628.52 190.00,628.20 C192.92,627.88 192.53,627.60 193.50,627.30 C194.47,627.00 195.13,626.78 195.80,626.40 C196.47,626.02 196.93,625.62 197.50,625.00 C198.07,624.38 198.53,623.57 199.20,622.70 C199.87,621.83 200.63,620.95 201.50,619.80 C202.37,618.65 203.43,617.20 204.40,615.80 C205.37,614.40 206.33,612.90 207.30,611.40 C208.27,609.90 209.23,608.33 210.20,606.80 C211.17,605.27 212.13,603.73 213.10,602.20 C214.07,600.67 215.10,598.92 216.00,597.60 C216.90,596.28 217.53,595.70 218.50,594.30 C219.47,592.90 220.80,590.83 221.80,589.20 C222.80,587.57 223.60,586.18 224.50,584.50 C225.40,582.82 226.42,580.67 227.20,579.10 C227.98,577.53 228.58,576.38 229.20,575.10 C229.82,573.82 230.62,572.02 230.90,571.40" fill="none" stroke="#a10027" stroke-width="1.5" stroke-linejoin="round" stroke-linecap="round"/>
<rect x="59.20" y="680.30" width="43.30" height="31.30" fill="#add8e6"/>
<rect x="102.50" y="680.30" width="85.50" height="31.30" fill="#d3d3d3"/>
<rect x="188.00" y="680.30" width="43.00" height="31.30" fill="#f6bdca"/>
<rect x="60.80" y="648.80" width="1.00" height="62.80" fill="#000" fill-opacity="0.1"/>
<rect x="64.20" y="648.80" width="1.70" height="62.80" fill="#000" fill-opacity="0.065"/>
<rect x="68.10" y="648.80" width="1.60" height="62.80" fill="#000" fill-opacity="0.065"/>
<rect x="71.90" y="648.80" width="1.00" height="62.80" fill="#000" fill-opacity="0.065"/>
<rect x="75.00" y="648.80" width="4.10" height="62.80" fill="#000" fill-opacity="0.065"/>
<rect x="78.10" y="648.80" width="1.00" height="62.80" fill="#000" fill-opacity="0.065"/>
<rect x="84.20" y="648.80" width="1.60" height="62.80" fill="#000" fill-opacity="0.065"/>
<rect x="89.00" y="648.80" width="2.90" height="62.80" fill="#000" fill-opacity="0.065"/>
<rect x="89.80" y="648.80" width="1.20" height="62.80" fill="#000" fill-opacity="0.065"/>
<rect x="99.10" y="648.80" width="1.20" height="62.80" fill="#000" fill-opacity="0.065"/>
<rect x="102.00" y="648.80" width="2.10" height="62.80" fill="#000" fill-opacity="0.1"/>
<rect x="109.40" y="648.80" width="1.70" height="62.80" fill="#000" fill-opacity="0.1"/>
<rect x="112.00" y="648.80" width="1.70" height="62.80" fill="#000" fill-opacity="0.065"/>
<rect x="123.10" y="648.80" width="1.70" height="62.80" fill="#000" fill-opacity="0.065"/>
<rect x="126.20" y="648.80" width="1.70" height="62.80" fill="#000" fill-opacity="0.065"/>
<rect x="131.00" y="648.80" width="2.00" height="62.80" fill="#000" fill-opacity="0.065"/>
<rect x="133.90" y="648.80" width="1.00" height="62.80" fill="#000" fill-opacity="0.065"/>
<rect x="136.10" y="648.80" width="1.90" height="62.80" fill="#000" fill-opacity="0.065"/>
<rect x="142.10" y="648.80" width="1.70" height="62.80" fill="#000" fill-opacity="0.065"/>
<rect x="148.80" y="648.80" width="1.20" height="62.80" fill="#000" fill-opacity="0.1"/>
<rect x="152.00" y="648.80" width="1.20" height="62.80" fill="#000" fill-opacity="0.065"/>
<rect x="154.10" y="648.80" width="1.90" height="62.80" fill="#000" fill-opacity="0.1"/>
<rect x="160.80" y="648.80" width="1.00" height="62.80" fill="#000" fill-opacity="0.065"/>
<rect x="164.90" y="648.80" width="1.20" height="62.80" fill="#000" fill-opacity="0.1"/>
<rect x="168.10" y="648.80" width="1.90" height="62.80" fill="#000" fill-opacity="0.145"/>
<rect x="178.90" y="648.80" width="3.10" height="62.80" fill="#000" fill-opacity="0.065"/>
<rect x="180.50" y="648.80" width="1.50" height="62.80" fill="#000" fill-opacity="0.065"/>
<rect x="182.00" y="648.80" width="2.00" height="62.80" fill="#000" fill-opacity="0.1"/>
<rect x="186.10" y="648.80" width="1.90" height="62.80" fill="#000" fill-opacity="0.1"/>
<rect x="192.30" y="648.80" width="1.50" height="62.80" fill="#000" fill-opacity="0.065"/>
<rect x="194.70" y="648.80" width="5.10" height="62.80" fill="#000" fill-opacity="0.065"/>
<rect x="197.80" y="648.80" width="1.00" height="62.80" fill="#000" fill-opacity="0.065"/>
<rect x="202.00" y="648.80" width="1.20" height="62.80" fill="#000" fill-opacity="0.065"/>
<rect x="203.90" y="648.80" width="2.10" height="62.80" fill="#000" fill-opacity="0.065"/>
<rect x="207.50" y="648.80" width="2.30" height="62.80" fill="#000" fill-opacity="0.1"/>
<rect x="211.80" y="648.80" width="1.20" height="62.80" fill="#000" fill-opacity="0.065"/>
<rect x="214.00" y="648.80" width="1.00" height="62.80" fill="#000" fill-opacity="0.145"/>
<rect x="215.70" y="648.80" width="1.20" height="62.80" fill="#000" fill-opacity="0.065"/>
<rect x="221.00" y="648.80" width="3.30" height="62.80" fill="#000" fill-opacity="0.145"/>
<rect x="225.30" y="648.80" width="1.90" height="62.80" fill="#000" fill-opacity="0.1"/>
<rect x="227.50" y="648.80" width="0.80" height="62.80" fill="#000" fill-opacity="0.3"/>
<rect x="228.30" y="648.80" width="0.70" height="62.80" fill="#000" fill-opacity="0.5"/>
<rect x="229.00" y="648.80" width="0.60" height="62.80" fill="#000" fill-opacity="0.7"/>
<rect x="229.60" y="648.80" width="1.40" height="62.80" fill="#000" fill-opacity="0.95"/>
<rect x="56.40" y="716.85" width="177.60" height="1.1" fill="#111"/>
<rect x="58.80" y="717.40" width="1" height="3" fill="#111"/>
<text x="61.30" y="727.00" font-size="8" text-anchor="end" fill="#111" stroke="#111" stroke-width="0.2" transform="rotate(-45 61.30 727.00)">−14.8</text>
<rect x="76.02" y="717.40" width="1" height="3" fill="#111"/>
<text x="78.52" y="727.00" font-size="8" text-anchor="end" fill="#111" stroke="#111" stroke-width="0.2" transform="rotate(-45 78.52 727.00)">−1.8</text>
<rect x="93.24" y="717.40" width="1" height="3" fill="#111"/>
<text x="95.74" y="727.00" font-size="8" text-anchor="end" fill="#111" stroke="#111" stroke-width="0.2" transform="rotate(-45 95.74 727.00)">−1.1</text>
<rect x="110.46" y="717.40" width="1" height="3" fill="#111"/>
<text x="112.96" y="727.00" font-size="8" text-anchor="end" fill="#111" stroke="#111" stroke-width="0.2" transform="rotate(-45 112.96 727.00)">−0.7</text>
<rect x="127.68" y="717.40" width="1" height="3" fill="#111"/>
<text x="130.18" y="727.00" font-size="8" text-anchor="end" fill="#111" stroke="#111" stroke-width="0.2" transform="rotate(-45 130.18 727.00)">−0.4</text>
<rect x="144.90" y="717.40" width="1" height="3" fill="#111"/>
<text x="147.40" y="727.00" font-size="8" text-anchor="end" fill="#111" stroke="#111" stroke-width="0.2" transform="rotate(-45 147.40 727.00)">−0.1</text>
<rect x="162.12" y="717.40" width="1" height="3" fill="#111"/>
<text x="164.62" y="727.00" font-size="8" text-anchor="end" fill="#111" stroke="#111" stroke-width="0.2" transform="rotate(-45 164.62 727.00)">0.1</text>
<rect x="179.34" y="717.40" width="1" height="3" fill="#111"/>
<text x="181.84" y="727.00" font-size="8" text-anchor="end" fill="#111" stroke="#111" stroke-width="0.2" transform="rotate(-45 181.84 727.00)">0.5</text>
<rect x="196.56" y="717.40" width="1" height="3" fill="#111"/>
<text x="199.06" y="727.00" font-size="8" text-anchor="end" fill="#111" stroke="#111" stroke-width="0.2" transform="rotate(-45 199.06 727.00)">0.9</text>
<rect x="213.78" y="717.40" width="1" height="3" fill="#111"/>
<text x="216.28" y="727.00" font-size="8" text-anchor="end" fill="#111" stroke="#111" stroke-width="0.2" transform="rotate(-45 216.28 727.00)">1.7</text>
<rect x="231.00" y="717.40" width="1" height="3" fill="#111"/>
<text x="233.50" y="727.00" font-size="8" text-anchor="end" fill="#111" stroke="#111" stroke-width="0.2" transform="rotate(-45 233.50 727.00)">17.8</text>
<text x="49.50" y="680.40" font-size="9.8" text-anchor="middle" fill="#111" stroke="#111" stroke-width="0.18" transform="rotate(-90 49.50 680.40)" textLength="67.30" lengthAdjust="spacingAndGlyphs">Downregulated</text>
<text x="239.50" y="680.30" font-size="9.8" text-anchor="middle" fill="#111" stroke="#111" stroke-width="0.18" transform="rotate(90 239.50 680.30)" textLength="53.40" lengthAdjust="spacingAndGlyphs">Upregulated</text>
<text x="125.60" y="756.10" font-size="10" textLength="39.40" lengthAdjust="spacingAndGlyphs" fill="#111" stroke="#111" stroke-width="0.3">t-statistic</text>
<text x="348.60" y="560.60" font-size="10.1" textLength="127.40" lengthAdjust="spacingAndGlyphs" fill="#111" stroke="#111" stroke-width="0.3">MM1S vs Interferon Signature</text>
<rect x="322.40" y="569.50" width="1.2" height="66.80" fill="#111"/>
<rect x="319.60" y="571.80" width="3.4" height="1" fill="#111"/>
<text x="316.20" y="575.20" font-size="8.0" text-anchor="end" fill="#111" stroke="#111" stroke-width="0.3">5.5</text>
<rect x="319.60" y="632.90" width="3.4" height="1" fill="#111"/>
<text x="316.20" y="636.30" font-size="8.0" text-anchor="end" fill="#111" stroke="#111" stroke-width="0.3">0</text>
<text x="298.00" y="602.90" font-size="9.9" text-anchor="middle" fill="#111" stroke="#111" stroke-width="0.18" transform="rotate(-90 298.00 602.90)" textLength="66.50" lengthAdjust="spacingAndGlyphs">ISG enrichment</text>
<text x="326.10" y="579.60" font-size="8.6" textLength="70.00" lengthAdjust="spacingAndGlyphs" fill="#111" stroke="#111" stroke-width="0.3">(UP) P.value = 0.033</text>
<line x1="323.00" y1="605.35" x2="502.00" y2="605.35" stroke="#111" stroke-width="1.2" stroke-dasharray="2.0 2.65"/>
<path d="M329.30,616.50 C330.18,616.32 332.92,615.72 334.60,615.40 C336.28,615.08 337.80,614.80 339.40,614.60 C341.00,614.40 342.60,614.32 344.20,614.20 C345.80,614.08 347.40,613.98 349.00,613.90 C350.60,613.82 352.18,613.73 353.80,613.70 C355.42,613.68 357.08,613.70 358.70,613.75 C360.32,613.80 361.62,613.92 363.50,614.00 C365.38,614.08 367.72,614.15 370.00,614.20 C372.28,614.25 374.80,614.38 377.20,614.30 C379.60,614.22 382.00,613.97 384.40,613.75 C386.80,613.53 389.20,613.19 391.60,613.00 C394.00,612.81 396.38,612.72 398.80,612.60 C401.22,612.48 403.68,612.53 406.10,612.30 C408.52,612.07 410.98,611.65 413.30,611.20 C415.62,610.75 418.25,610.02 420.00,609.60 C421.75,609.18 422.52,608.93 423.80,608.70 C425.08,608.47 426.42,608.35 427.70,608.20 C428.98,608.05 430.22,607.95 431.50,607.80 C432.78,607.65 434.37,607.52 435.40,607.30 C436.43,607.08 436.93,606.82 437.70,606.50 C438.47,606.18 439.10,605.80 440.00,605.40 C440.90,605.00 441.95,604.58 443.10,604.10 C444.25,603.62 445.62,603.02 446.90,602.50 C448.18,601.98 449.52,601.55 450.80,601.00 C452.08,600.45 453.32,599.82 454.60,599.20 C455.88,598.58 456.77,598.42 458.50,597.30 C460.23,596.18 462.88,594.03 465.00,592.50 C467.12,590.97 469.17,589.56 471.25,588.10 C473.33,586.64 475.42,585.14 477.50,583.75 C479.58,582.36 481.67,581.04 483.75,579.75 C485.83,578.46 488.06,577.21 490.00,576.00 C491.94,574.79 494.50,573.08 495.40,572.50" fill="none" stroke="#a10027" stroke-width="1.5" stroke-linejoin="round" stroke-linecap="round"/>
<rect x="329.70" y="678.00" width="41.50" height="30.40" fill="#add8e6"/>
<rect x="371.20" y="678.00" width="82.60" height="30.40" fill="#d3d3d3"/>
<rect x="453.80" y="678.00" width="41.20" height="30.40" fill="#f6bdca"/>
<rect x="330.60" y="647.70" width="1.00" height="60.70" fill="#000" fill-opacity="0.065"/>
<rect x="336.90" y="647.70" width="2.90" height="60.70" fill="#000" fill-opacity="0.065"/>
<rect x="341.90" y="647.70" width="1.00" height="60.70" fill="#000" fill-opacity="0.2"/>
<rect x="343.80" y="647.70" width="1.00" height="60.70" fill="#000" fill-opacity="0.065"/>
<rect x="346.30" y="647.70" width="2.90" height="60.70" fill="#000" fill-opacity="0.1"/>
<rect x="351.10" y="647.70" width="1.90" height="60.70" fill="#000" fill-opacity="0.065"/>
<rect x="354.60" y="647.70" width="1.00" height="60.70" fill="#000" fill-opacity="0.1"/>
<rect x="357.30" y="647.70" width="1.40" height="60.70" fill="#000" fill-opacity="0.065"/>
<rect x="359.00" y="647.70" width="1.00" height="60.70" fill="#000" fill-opacity="0.1"/>
<rect x="361.10" y="647.70" width="3.90" height="60.70" fill="#000" fill-opacity="0.065"/>
<rect x="361.00" y="647.70" width="1.00" height="60.70" fill="#000" fill-opacity="0.065"/>
<rect x="363.00" y="647.70" width="1.00" height="60.70" fill="#000" fill-opacity="0.065"/>
<rect x="366.40" y="647.70" width="3.40" height="60.70" fill="#000" fill-opacity="0.065"/>
<rect x="371.20" y="647.70" width="2.00" height="60.70" fill="#000" fill-opacity="0.1"/>
<rect x="375.60" y="647.70" width="2.40" height="60.70" fill="#000" fill-opacity="0.065"/>
<rect x="381.30" y="647.70" width="1.40" height="60.70" fill="#000" fill-opacity="0.065"/>
<rect x="383.70" y="647.70" width="6.30" height="60.70" fill="#000" fill-opacity="0.065"/>
<rect x="385.80" y="647.70" width="1.00" height="60.70" fill="#000" fill-opacity="0.1"/>
<rect x="390.90" y="647.70" width="4.80" height="60.70" fill="#000" fill-opacity="0.065"/>
<rect x="393.00" y="647.70" width="1.00" height="60.70" fill="#000" fill-opacity="0.1"/>
<rect x="397.20" y="647.70" width="1.90" height="60.70" fill="#000" fill-opacity="0.1"/>
<rect x="402.90" y="647.70" width="5.10" height="60.70" fill="#000" fill-opacity="0.1"/>
<rect x="408.40" y="647.70" width="1.00" height="60.70" fill="#000" fill-opacity="0.065"/>
<rect x="411.30" y="647.70" width="1.50" height="60.70" fill="#000" fill-opacity="0.065"/>
<rect x="414.90" y="647.70" width="1.00" height="60.70" fill="#000" fill-opacity="0.145"/>
<rect x="418.10" y="647.70" width="1.00" height="60.70" fill="#000" fill-opacity="0.1"/>
<rect x="420.00" y="647.70" width="1.00" height="60.70" fill="#000" fill-opacity="0.065"/>
<rect x="423.80" y="647.70" width="1.00" height="60.70" fill="#000" fill-opacity="0.1"/>
<rect x="427.90" y="647.70" width="1.00" height="60.70" fill="#000" fill-opacity="0.1"/>
<rect x="432.50" y="647.70" width="1.90" height="60.70" fill="#000" fill-opacity="0.145"/>
<rect x="436.30" y="647.70" width="2.50" height="60.70" fill="#000" fill-opacity="0.065"/>
<rect x="439.20" y="647.70" width="2.70" height="60.70" fill="#000" fill-opacity="0.22"/>
<rect x="443.00" y="647.70" width="2.00" height="60.70" fill="#000" fill-opacity="0.145"/>
<rect x="446.20" y="647.70" width="3.10" height="60.70" fill="#000" fill-opacity="0.065"/>
<rect x="450.20" y="647.70" width="1.70" height="60.70" fill="#000" fill-opacity="0.1"/>
<rect x="453.10" y="647.70" width="1.50" height="60.70" fill="#000" fill-opacity="0.145"/>
<rect x="456.30" y="647.70" width="3.60" height="60.70" fill="#000" fill-opacity="0.065"/>
<rect x="461.10" y="647.70" width="1.90" height="60.70" fill="#000" fill-opacity="0.145"/>
<rect x="464.00" y="647.70" width="1.20" height="60.70" fill="#000" fill-opacity="0.145"/>
<rect x="466.10" y="647.70" width="1.90" height="60.70" fill="#000" fill-opacity="0.145"/>
<rect x="470.30" y="647.70" width="1.90" height="60.70" fill="#000" fill-opacity="0.145"/>
<rect x="473.80" y="647.70" width="1.10" height="60.70" fill="#000" fill-opacity="0.1"/>
<rect x="477.60" y="647.70" width="2.40" height="60.70" fill="#000" fill-opacity="0.145"/>
<rect x="481.10" y="647.70" width="1.90" height="60.70" fill="#000" fill-opacity="0.065"/>
<rect x="484.30" y="647.70" width="3.50" height="60.70" fill="#000" fill-opacity="0.22"/>
<rect x="485.50" y="647.70" width="1.30" height="60.70" fill="#000" fill-opacity="0.18"/>
<rect x="488.40" y="647.70" width="3.80" height="60.70" fill="#000" fill-opacity="0.145"/>
<rect x="493.80" y="647.70" width="1.60" height="60.70" fill="#000" fill-opacity="0.145"/>
<rect x="326.60" y="713.25" width="170.90" height="1.1" fill="#111"/>
<rect x="329.00" y="713.80" width="1" height="3" fill="#111"/>
<text x="331.50" y="723.40" font-size="8" text-anchor="end" fill="#111" stroke="#111" stroke-width="0.2" transform="rotate(-45 331.50 723.40)">−16.19</text>
<rect x="345.55" y="713.80" width="1" height="3" fill="#111"/>
<text x="348.05" y="723.40" font-size="8" text-anchor="end" fill="#111" stroke="#111" stroke-width="0.2" transform="rotate(-45 348.05 723.40)">−2.51</text>
<rect x="362.10" y="713.80" width="1" height="3" fill="#111"/>
<text x="364.60" y="723.40" font-size="8" text-anchor="end" fill="#111" stroke="#111" stroke-width="0.2" transform="rotate(-45 364.60 723.40)">−1.61</text>
<rect x="378.65" y="713.80" width="1" height="3" fill="#111"/>
<text x="381.15" y="723.40" font-size="8" text-anchor="end" fill="#111" stroke="#111" stroke-width="0.2" transform="rotate(-45 381.15 723.40)">−1.00</text>
<rect x="395.20" y="713.80" width="1" height="3" fill="#111"/>
<text x="397.70" y="723.40" font-size="8" text-anchor="end" fill="#111" stroke="#111" stroke-width="0.2" transform="rotate(-45 397.70 723.40)">−0.51</text>
<rect x="411.75" y="713.80" width="1" height="3" fill="#111"/>
<text x="414.25" y="723.40" font-size="8" text-anchor="end" fill="#111" stroke="#111" stroke-width="0.2" transform="rotate(-45 414.25 723.40)">−0.03</text>
<rect x="428.30" y="713.80" width="1" height="3" fill="#111"/>
<text x="430.80" y="723.40" font-size="8" text-anchor="end" fill="#111" stroke="#111" stroke-width="0.2" transform="rotate(-45 430.80 723.40)">0.20</text>
<rect x="444.85" y="713.80" width="1" height="3" fill="#111"/>
<text x="447.35" y="723.40" font-size="8" text-anchor="end" fill="#111" stroke="#111" stroke-width="0.2" transform="rotate(-45 447.35 723.40)">0.71</text>
<rect x="461.40" y="713.80" width="1" height="3" fill="#111"/>
<text x="463.90" y="723.40" font-size="8" text-anchor="end" fill="#111" stroke="#111" stroke-width="0.2" transform="rotate(-45 463.90 723.40)">1.34</text>
<rect x="477.95" y="713.80" width="1" height="3" fill="#111"/>
<text x="480.45" y="723.40" font-size="8" text-anchor="end" fill="#111" stroke="#111" stroke-width="0.2" transform="rotate(-45 480.45 723.40)">2.44</text>
<rect x="494.50" y="713.80" width="1" height="3" fill="#111"/>
<text x="497.00" y="723.40" font-size="8" text-anchor="end" fill="#111" stroke="#111" stroke-width="0.2" transform="rotate(-45 497.00 723.40)">22.20</text>
<text x="319.60" y="678.00" font-size="9.8" text-anchor="middle" fill="#111" stroke="#111" stroke-width="0.18" transform="rotate(-90 319.60 678.00)" textLength="68.30" lengthAdjust="spacingAndGlyphs">Downregulated</text>
<text x="504.80" y="678.10" font-size="9.8" text-anchor="middle" fill="#111" stroke="#111" stroke-width="0.18" transform="rotate(90 504.80 678.10)" textLength="54.60" lengthAdjust="spacingAndGlyphs">Upregulated</text>
<text x="393.00" y="756.10" font-size="10" textLength="39.40" lengthAdjust="spacingAndGlyphs" fill="#111" stroke="#111" stroke-width="0.3">t-statistic</text>
</svg>
</body></html>
